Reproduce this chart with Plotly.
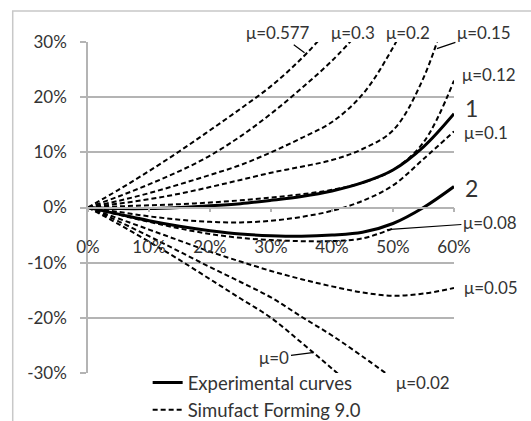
import plotly.graph_objects as go

# ---------------- data (percent) ----------------
strain = [0, 5, 10, 15, 20, 25, 30, 35, 40, 45, 50, 55, 60]

exp_curve_1 = [0, -0.2, -0.2, 0.0, 0.3, 0.7, 1.3, 2.0, 3.0, 4.5, 6.8, 11.0, 17.0]
exp_curve_2 = [0, -1.2, -2.4, -3.4, -4.2, -4.8, -5.1, -5.2, -5.0, -4.5, -2.9, 0.0, 3.8]

sim_mu_0577 = [0, 3.2, 6.6, 10.2, 14.0, 17.9, 22.0, 27.0, 33.0, None, None, None, None]
sim_mu_030 = [0, 2.0, 4.2, 6.6, 9.4, 12.9, 17.0, 21.6, 26.6, 32.5, None, None, None]
sim_mu_020 = [0, 1.2, 2.6, 4.2, 5.9, 7.7, 10.0, 12.6, 15.5, 20.5, 29.0, 40.0, None]
sim_mu_015 = [0, 0.7, 1.5, 2.5, 3.7, 5.0, 6.3, 7.4, 8.6, 10.6, 14.0, 23.5, 40.0]
sim_mu_012 = [0, 0.2, 0.4, 0.6, 0.9, 1.3, 1.8, 2.4, 3.2, 4.5, 6.8, 11.8, 23.0]
sim_mu_010 = [0, -0.8, -1.6, -2.2, -2.6, -2.7, -2.4, -1.7, -0.6, 1.2, 4.0, 8.8, 13.8]
sim_mu_008 = [0, -1.3, -2.6, -3.8, -4.8, -5.5, -5.9, -6.1, -6.1, -5.6, -3.8, None, None]
sim_mu_005 = [0, -2.0, -4.0, -6.0, -8.0, -9.8, -11.5, -13.0, -14.3, -15.4, -16.0, -15.6, -14.6]
sim_mu_002 = [0, -2.5, -5.2, -8.0, -10.8, -13.5, -16.3, -19.8, -23.2, -27.0, -31.0, None, None]
sim_mu_000 = [0, -3.0, -6.2, -9.5, -13.0, -16.5, -20.0, -24.5, -29.2, -34.0, None, None, None]

sim_curves = [sim_mu_0577, sim_mu_030, sim_mu_020, sim_mu_015, sim_mu_012,
              sim_mu_010, sim_mu_008, sim_mu_005, sim_mu_002, sim_mu_000]

x_ticks = [0, 10, 20, 30, 40, 50, 60]
x_tick_labels = ["0%", "10%", "20%", "30%", "40%", "50%", "60%"]
y_ticks = [-30, -20, -10, 0, 10, 20, 30]
y_tick_labels = ["-30%", "-20%", "-10%", "0%", "10%", "20%", "30%"]

legend_names = ["Experimental curves", "Simufact Forming 9.0"]

# free labels in paper coords: (text, x, y, xanchor, size)
free_labels = [("μ=0.12", 1.0156, 0.901, "left", 17), ("1", 1.0238, 0.8, "left", 23),
               ("μ=0.1", 1.021, 0.727, "left", 17), ("2", 1.0238, 0.5598, "left", 23),
               ("μ=0.05", 1.021, 0.2577, "left", 17),
               ("μ=0.3", 0.7232, 1.0281, "center", 17), ("μ=0.2", 0.8735, 1.0281, "center", 17),
               ("μ=0.02", 0.9145, -0.0293, "center", 17)]
# leader labels: (text, point x, point y, ax, ay)
leader_labels = [("μ=0.577", 35.5, 28.05, -27, -20), ("μ=0.15", 57.2, 28.8, 47, -16),
                 ("μ=0.08", 49.0, -4.0, 103, -7), ("μ=0", 36.8, -26.3, -38, 5)]

# ---------------- figure ----------------
FONT = "Lato, 'Open Sans', sans-serif"
TXT = "#333333"
GRID = "#b4b4b4"

fig = go.Figure()

fig.add_trace(go.Scatter(x=strain, y=exp_curve_1, mode="lines", name=legend_names[0],
                         line=dict(color="black", width=3, shape="spline"), showlegend=True))
fig.add_trace(go.Scatter(x=strain, y=exp_curve_2, mode="lines", name=legend_names[0],
                         line=dict(color="black", width=3, shape="spline"), showlegend=False))
for i, c in enumerate(sim_curves):
    fig.add_trace(go.Scatter(x=strain, y=c, mode="lines", name=legend_names[1],
                             line=dict(color="black", width=2, dash="5px,3px", shape="spline"),
                             showlegend=(i == 0)))

annotations = []
for t, x, y, xa, sz in free_labels:
    annotations.append(dict(x=x, y=y, xref="paper", yref="paper", text=t, showarrow=False,
                            xanchor=xa, yanchor="middle",
                            font=dict(size=sz, color=TXT, family=FONT)))
for t, x, y, ax, ay in leader_labels:
    annotations.append(dict(x=x, y=y, xref="x", yref="y", text=t, showarrow=True,
                            arrowhead=0, arrowwidth=1.2, arrowcolor="black",
                            ax=ax, ay=ay, standoff=0, startstandoff=0,
                            font=dict(size=17, color=TXT, family=FONT)))

fig.update_layout(
    width=531, height=421, autosize=False,
    margin=dict(l=88, r=77, t=42, b=48, pad=0, autoexpand=False),
    paper_bgcolor="white", plot_bgcolor="white",
    font=dict(family=FONT, size=17, color=TXT),
    annotations=annotations,
    shapes=[dict(type="rect", xref="paper", yref="paper",
                 x0=-0.2057, x1=1.25, y0=-0.2, y1=1.0936,
                 line=dict(color="#c8c8c8", width=1.5), layer="below")],
    legend=dict(x=0.163, y=0.027, xanchor="left", yanchor="top",
                bgcolor="rgba(0,0,0,0)", font=dict(size=18.5, color=TXT, family=FONT),
                tracegroupgap=0),
)

fig.update_yaxes(range=[-30, 30], tickvals=y_ticks, ticktext=y_tick_labels,
                 showgrid=True, gridcolor=GRID, gridwidth=1.5,
                 showline=True, linecolor=GRID, linewidth=1.5,
                 ticks="outside", ticklen=6, tickcolor=GRID, tickwidth=1.5,
                 zeroline=False, ticklabelstandoff=10,
                 tickfont=dict(size=17, color=TXT, family=FONT))
fig.update_xaxes(range=[0, 60], tickvals=x_ticks, ticktext=x_tick_labels,
                 anchor="free", position=0.5,
                 showgrid=False, showline=True, linecolor=GRID, linewidth=1.5,
                 ticks="outside", ticklen=4, tickcolor=GRID, tickwidth=1.5,
                 zeroline=False, ticklabelstandoff=20,
                 tickfont=dict(size=17, color=TXT, family=FONT))

fig.write_html("out.html")
